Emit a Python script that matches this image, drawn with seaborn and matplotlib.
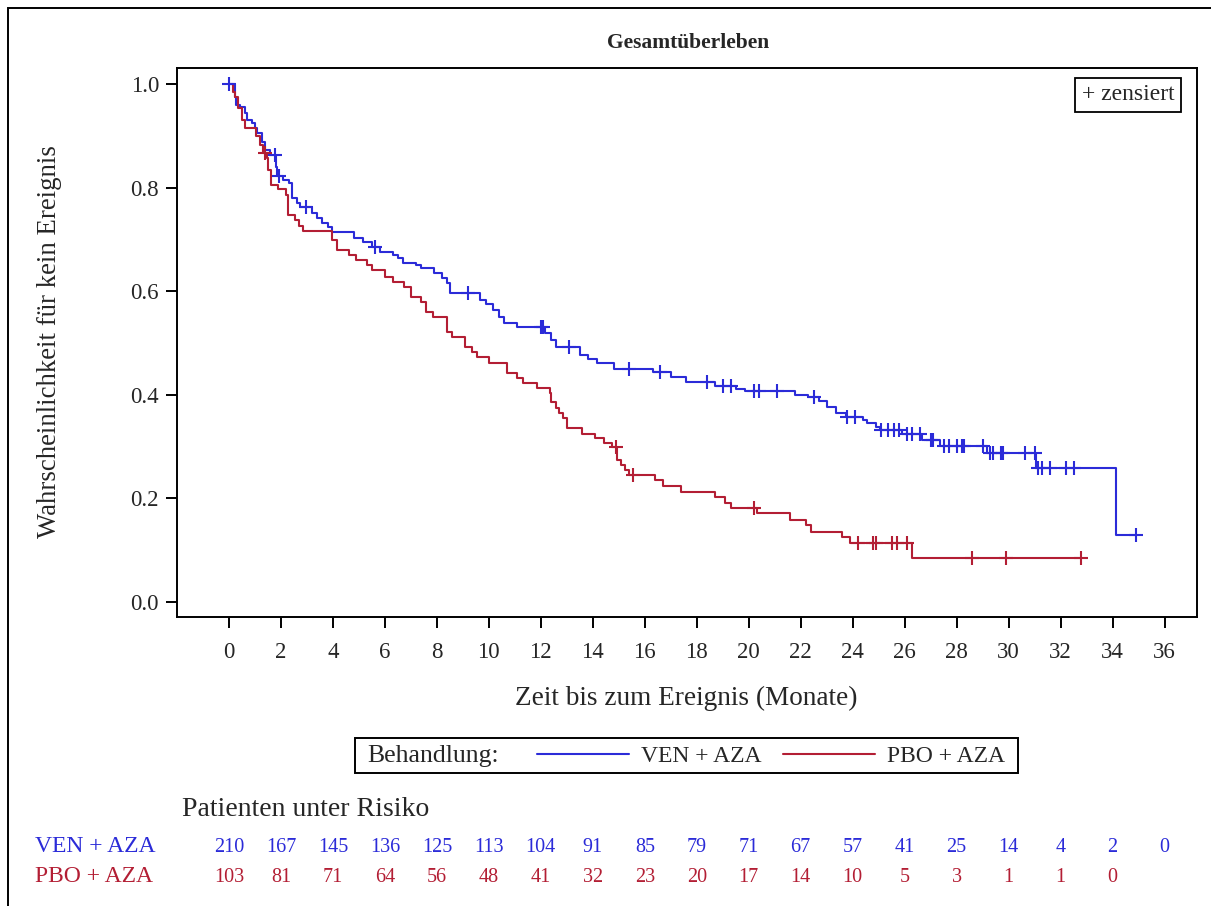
import numpy as np
import pandas as pd
import matplotlib
matplotlib.use("Agg")
import matplotlib.pyplot as plt
from matplotlib.lines import Line2D
from matplotlib.patches import Rectangle
import seaborn as sns

# Kaplan-Meier step functions: time (months) where each step starts, survival after the step
ven_t = [0, 0.22, 0.27, 0.42, 0.62, 0.7, 0.88, 1.0, 1.07, 1.27, 1.38, 1.58, 1.8, 1.86,
         2.08, 2.3, 2.42, 2.6, 2.73, 3.18, 3.38, 3.58, 3.8, 3.95, 4.8, 5.15, 5.5, 5.8,
         6.3, 6.5, 6.7, 7.2, 7.4, 7.9, 8.2, 8.4, 8.5, 9.65, 9.9, 10.15, 10.4, 10.6,
         11.1, 12.15, 12.4, 12.6, 13.5, 13.8, 14.15, 14.8, 16.3, 17.0, 17.6, 18.7,
         19.5, 19.85, 21.8, 22.3, 22.7, 23.0, 23.35, 23.75, 24.4, 24.55, 24.9, 25.05,
         25.9, 26.65, 27.35, 29.15, 31.05, 34.15]
ven_s = [1.0, 0.975, 0.96, 0.955, 0.944, 0.93, 0.925, 0.915, 0.905, 0.888, 0.872, 0.863,
         0.84, 0.822, 0.815, 0.809, 0.78, 0.77, 0.763, 0.751, 0.741, 0.732, 0.724, 0.714,
         0.703, 0.695, 0.685, 0.676, 0.67, 0.664, 0.654, 0.65, 0.645, 0.635, 0.626, 0.616,
         0.596, 0.583, 0.575, 0.564, 0.55, 0.539, 0.531, 0.52, 0.505, 0.492, 0.477, 0.47,
         0.461, 0.45, 0.444, 0.434, 0.424, 0.417, 0.411, 0.407, 0.4, 0.396, 0.388, 0.376,
         0.365, 0.357, 0.351, 0.345, 0.338, 0.332, 0.324, 0.313, 0.301, 0.288, 0.259, 0.129]
ven_end = 34.9
ven_cens = [0.0, 1.77, 1.92, 2.96, 5.6, 9.2, 12.0, 12.08, 13.1, 15.4, 16.6, 18.4, 19.0,
            19.3, 20.2, 20.4, 21.1, 22.5, 23.8, 24.1, 25.1, 25.35, 25.6, 25.8, 26.1,
            26.3, 26.6, 27.0, 27.1, 27.5, 27.7, 28.0, 28.2, 28.3, 29.0, 29.3, 29.4,
            29.7, 29.8, 30.65, 31.0, 31.15, 31.3, 31.6, 32.2, 32.5, 34.9]

pbo_t = [0, 0.15, 0.25, 0.35, 0.5, 0.62, 1.05, 1.2, 1.3, 1.48, 1.52, 1.62, 1.9, 2.2,
         2.27, 2.55, 2.7, 2.85, 3.95, 4.15, 4.6, 4.9, 5.3, 5.5, 6.0, 6.3, 6.75, 7.0,
         7.4, 7.6, 7.85, 8.4, 8.6, 9.1, 9.35, 9.55, 10.0, 10.7, 11.1, 11.3, 11.85,
         12.35, 12.4, 12.6, 12.7, 12.85, 13.0, 13.6, 14.1, 14.45, 14.75, 14.95, 15.1,
         15.25, 15.4, 16.4, 16.7, 17.4, 18.7, 19.1, 19.3, 20.3, 21.6, 22.2, 22.4,
         23.6, 23.9, 26.3]
pbo_s = [1.0, 0.985, 0.975, 0.953, 0.93, 0.915, 0.9, 0.882, 0.867, 0.857, 0.834, 0.805,
         0.797, 0.786, 0.747, 0.737, 0.726, 0.716, 0.699, 0.68, 0.67, 0.66, 0.65, 0.641,
         0.627, 0.618, 0.608, 0.589, 0.579, 0.56, 0.55, 0.521, 0.512, 0.492, 0.483,
         0.473, 0.461, 0.442, 0.432, 0.423, 0.413, 0.403, 0.386, 0.375, 0.365, 0.355,
         0.335, 0.325, 0.317, 0.307, 0.299, 0.274, 0.264, 0.255, 0.245, 0.236, 0.224,
         0.212, 0.203, 0.191, 0.181, 0.172, 0.158, 0.149, 0.135, 0.125, 0.114, 0.085]
pbo_end = 32.8
pbo_cens = [1.38, 14.9, 15.55, 20.2, 24.2, 24.8, 24.9, 25.5, 25.7, 26.1, 28.6, 29.9, 32.8]

arms = ["VEN + AZA", "PBO + AZA"]
colors = {"VEN + AZA": "#2B2BD8", "PBO + AZA": "#B31E34"}

x_ticks = list(range(0, 37, 2))
ven_risk = [210, 167, 145, 136, 125, 113, 104, 91, 85, 79, 71, 67, 57, 41, 25, 14, 4, 2, 0]
pbo_risk = [103, 81, 71, 64, 56, 48, 41, 32, 23, 20, 17, 14, 10, 5, 3, 1, 1, 0]


def step_frame(arm, t, s, end):
    tt = list(t) + [end]
    ss = list(s) + [s[-1]]
    return pd.DataFrame({"t": tt, "S": ss, "arm": arm})


def censor_frame(arm, t, s, cens):
    t = np.asarray(t)
    s = np.asarray(s)
    idx = np.searchsorted(t, np.asarray(cens), side="right") - 1
    return pd.DataFrame({"t": cens, "S": s[idx], "arm": arm})


curves = pd.concat([step_frame(arms[0], ven_t, ven_s, ven_end),
                    step_frame(arms[1], pbo_t, pbo_s, pbo_end)], ignore_index=True)
marks = pd.concat([censor_frame(arms[0], ven_t, ven_s, ven_cens),
                   censor_frame(arms[1], pbo_t, pbo_s, pbo_cens)], ignore_index=True)

sns.set_style("ticks")
plt.rcParams["font.family"] = ["Liberation Serif", "DejaVu Serif"]

W, H = 1211, 906
fig = plt.figure(figsize=(W / 100, H / 100), dpi=100)


def fx(px):
    return px / W


def fy(py):
    return 1 - py / H


ax = fig.add_axes([fx(177), fy(617), fx(1197) - fx(177), fy(68) - fy(617)])

for arm in arms:
    sub = curves[curves.arm == arm]
    sns.lineplot(data=sub, x="t", y="S", ax=ax, color=colors[arm], lw=1.5,
                 drawstyle="steps-post", estimator=None, sort=False, legend=False)
    sm = marks[marks.arm == arm]
    sns.scatterplot(data=sm, x="t", y="S", ax=ax, marker="+", s=90, linewidth=1.5,
                    color=colors[arm], legend=False, zorder=3)

ax.set_xlim(-2.0, 37.25)
ax.set_ylim(-0.029, 1.031)
ax.set_xticks(x_ticks)
ax.set_xticklabels([str(v) for v in x_ticks])
ax.set_yticks([0, 0.2, 0.4, 0.6, 0.8, 1.0])
ax.set_yticklabels(["0.0", "0.2", "0.4", "0.6", "0.8", "1.0"])
ax.tick_params(axis="both", length=8, width=1.4, labelsize=16.5, color="black")
ax.tick_params(axis="x", pad=10)
ax.tick_params(axis="y", pad=5)
for sp in ax.spines.values():
    sp.set_visible(True)
    sp.set_linewidth(1.4)
    sp.set_color("black")

ax.set_xlabel("Zeit bis zum Ereignis (Monate)", fontsize=19.6)
ax.set_ylabel("Wahrscheinlichkeit für kein Ereignis", fontsize=19.3)
ax.xaxis.set_label_coords((686 - 177) / 1020, (617 - 698) / 549)
ax.xaxis.label.set_verticalalignment("center")
ax.yaxis.set_label_coords((50 - 177) / 1020, (617 - 342) / 549)
ax.yaxis.label.set_verticalalignment("center")

fig.text(fx(688), fy(43), "Gesamtüberleben", ha="center", va="center",
         fontsize=15.5, fontweight="bold")

# censoring key inside the plot area
fig.text(fx(1128), fy(95), "+ zensiert", ha="center", va="center", fontsize=17,
         bbox=dict(boxstyle="square,pad=0.28", fc="white", ec="black", lw=1.3))

# treatment legend below the axis label
fig.patches.append(Rectangle((fx(355), fy(773)), fx(1018) - fx(355), fy(738) - fy(773),
                             transform=fig.transFigure, fill=False, ec="black", lw=1.4))
fig.text(fx(367), fy(756), "Behandlung:", ha="left", va="center", fontsize=18.5)
handles = [Line2D([], [], color=colors[a], lw=1.5) for a in arms]
fig.legend(handles, arms, loc="center left", bbox_to_anchor=(fx(537), fy(756)),
           ncol=2, frameon=False, fontsize=17, handlelength=3.9, handletextpad=0.5,
           columnspacing=0.9, borderpad=0, borderaxespad=0)

# number at risk table
fig.text(fx(182), fy(810), "Patienten unter Risiko", ha="left", va="center", fontsize=20)
trans = matplotlib.transforms.blended_transform_factory(ax.transData, fig.transFigure)
for arm, risk, py in [(arms[0], ven_risk, 847), (arms[1], pbo_risk, 877)]:
    fig.text(fx(35), fy(py), arm, ha="left", va="center", fontsize=17, color=colors[arm])
    for xv, n in zip(x_ticks, risk):
        ax.text(xv, fy(py), str(n), transform=trans, ha="center", va="center",
                fontsize=14.5, color=colors[arm], clip_on=False)

# outer frame (left and top edges fall inside the canvas)
fig.patches.append(Rectangle((fx(8), -0.2), 2, fy(8) + 0.2, transform=fig.transFigure,
                             fill=False, ec="black", lw=1.4))

fig.savefig("out.png", dpi=100)
